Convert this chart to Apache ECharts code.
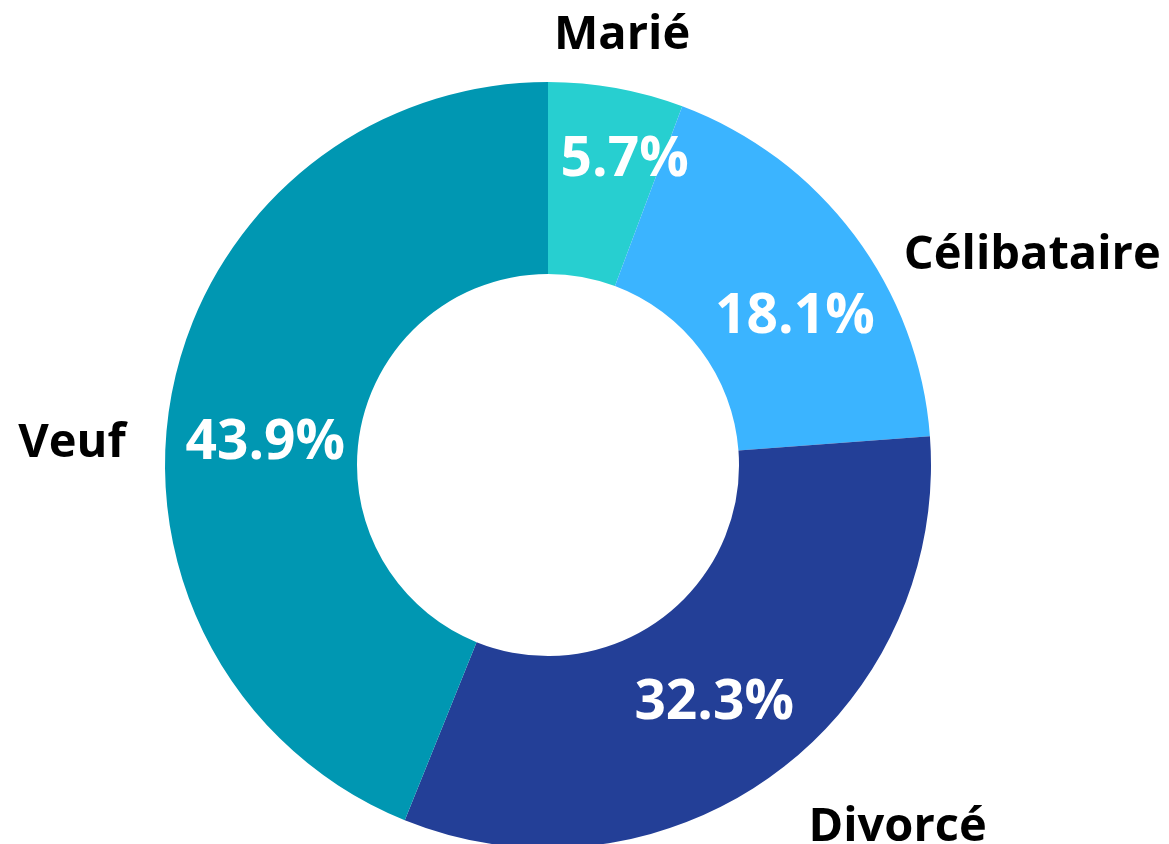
<!DOCTYPE html>
<html>
<head>
<meta charset="utf-8">
<script src="https://cdn.jsdelivr.net/npm/echarts@6/dist/echarts.min.js"></script>
<style>
  html, body { margin: 0; padding: 0; background: #ffffff; }
  #chart { width: 1169px; height: 844px; }
</style>
</head>
<body>
<div id="chart"></div>
<script>
// ---- data ----
const categories = ['Marié', 'Célibataire', 'Divorcé', 'Veuf'];
const percentages = [5.7, 18.1, 32.3, 43.9];

// ---- styling ----
const colors = ['#27CFD0', '#3BB4FF', '#233F97', '#0097B2'];
const CENTER = [548, 465];
const R_INNER = 191, R_OUTER = 383;
// label nudges (px) relative to library-computed label anchors
const pctShift = [[25, -19], [15, 26], [-5, 4], [2, 34]];
const nameShift = [[-3, -3], [138, 51], [94, 13], [-51, 61]];

const FONT = '"Open Sans", "Noto Sans", sans-serif';

const mainData = categories.map((c, i) => ({
  name: c, value: percentages[i], itemStyle: { color: colors[i] }
}));
const nameData = categories.map((c, i) => ({ name: c, value: percentages[i] }));

const chart = echarts.init(document.getElementById('chart'), null, { renderer: 'canvas' });
chart.setOption({
  backgroundColor: '#ffffff',
  animation: false,
  series: [
    {
      type: 'pie',
      center: CENTER,
      radius: [R_INNER, R_OUTER],
      startAngle: 90,
      clockwise: true,
      avoidLabelOverlap: false,
      silent: true,
      itemStyle: { borderWidth: 0 },
      label: {
        show: true,
        position: 'inside',
        color: '#ffffff',
        fontFamily: FONT,
        fontWeight: 'bold',
        fontSize: 55,
        formatter: p => p.value.toFixed(1) + '%'
      },
      labelLine: { show: false },
      labelLayout: p => ({ dx: pctShift[p.dataIndex][0], dy: pctShift[p.dataIndex][1] }),
      data: mainData
    },
    {
      type: 'pie',
      center: CENTER,
      radius: [420, 440],
      startAngle: 90,
      clockwise: true,
      avoidLabelOverlap: false,
      silent: true,
      itemStyle: { color: 'rgba(0,0,0,0)', borderWidth: 0 },
      label: {
        show: true,
        position: 'inside',
        color: '#000000',
        fontFamily: FONT,
        fontWeight: 'bold',
        fontSize: 47,
        formatter: p => p.name
      },
      labelLine: { show: false },
      labelLayout: p => ({ dx: nameShift[p.dataIndex][0], dy: nameShift[p.dataIndex][1] }),
      data: nameData
    }
  ]
});
</script>
</body>
</html>
